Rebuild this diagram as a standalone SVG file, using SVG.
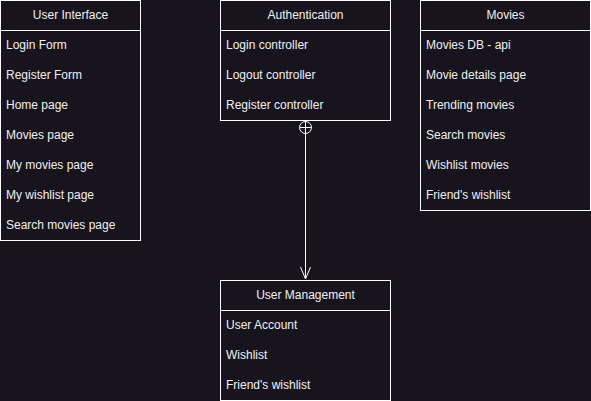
<svg xmlns="http://www.w3.org/2000/svg" width="591" height="401" viewBox="0 0 591 401">
<style>
.box{fill:#18141d;stroke:#ffffff;stroke-width:1}
.sep{stroke:#ffffff;stroke-width:1}
text{font-family:"Liberation Sans",Arial,sans-serif;font-size:12px;fill:#f0f0f0;dominant-baseline:central}
.h{text-anchor:middle}
.edge{fill:none;stroke:#ffffff;stroke-width:1}
</style>
<rect width="591" height="401" fill="#18141d"/>
<g id="user-interface">
<rect class="box" x="0.5" y="0.5" width="140" height="240"/>
<line class="sep" x1="0.5" y1="30.5" x2="140.5" y2="30.5"/>
<text class="h" x="70.5" y="15">User Interface</text>
<text x="6" y="45">Login Form</text>
<text x="6" y="75">Register Form</text>
<text x="6" y="105">Home page</text>
<text x="6" y="135">Movies page</text>
<text x="6" y="165">My movies page</text>
<text x="6" y="195">My wishlist page</text>
<text x="6" y="225">Search movies page</text>
</g>
<g id="authentication">
<rect class="box" x="220.5" y="0.5" width="170" height="120"/>
<line class="sep" x1="220.5" y1="30.5" x2="390.5" y2="30.5"/>
<text class="h" x="305.5" y="15">Authentication</text>
<text x="226" y="45">Login controller</text>
<text x="226" y="75">Logout controller</text>
<text x="226" y="105">Register controller</text>
</g>
<g id="movies">
<rect class="box" x="420.5" y="0.5" width="170" height="210"/>
<line class="sep" x1="420.5" y1="30.5" x2="590.5" y2="30.5"/>
<text class="h" x="505.5" y="15">Movies</text>
<text x="426" y="45">Movies DB - api</text>
<text x="426" y="75">Movie details page</text>
<text x="426" y="105">Trending movies</text>
<text x="426" y="135">Search movies</text>
<text x="426" y="165">Wishlist movies</text>
<text x="426" y="195">Friend's wishlist</text>
</g>
<g id="user-management">
<rect class="box" x="220.5" y="280.5" width="170" height="120"/>
<line class="sep" x1="220.5" y1="310.5" x2="390.5" y2="310.5"/>
<text class="h" x="305.5" y="295">User Management</text>
<text x="226" y="325">User Account</text>
<text x="226" y="355">Wishlist</text>
<text x="226" y="385">Friend's wishlist</text>
</g>
<g id="connectors">
<line class="edge" x1="305.5" y1="121" x2="305.5" y2="279"/>
<circle class="edge" cx="305.5" cy="127.5" r="6"/>
<line class="edge" x1="299.5" y1="127.5" x2="311.5" y2="127.5"/>
<polyline class="edge" points="300.5,267 305.5,279 310.5,267"/>
</g>
</svg>
